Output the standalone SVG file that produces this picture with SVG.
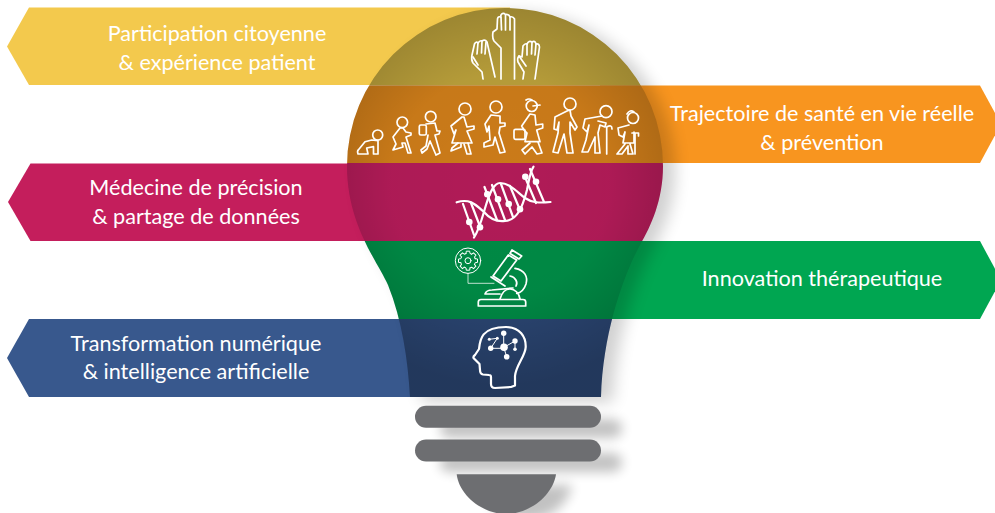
<svg xmlns="http://www.w3.org/2000/svg" width="995" height="513" viewBox="0 0 995 513">
<defs>
<filter id="blur" x="-30%" y="-150%" width="160%" height="400%"><feGaussianBlur stdDeviation="6"/></filter>
<filter id="blur2" x="-30%" y="-30%" width="160%" height="160%"><feGaussianBlur stdDeviation="8"/></filter>
<radialGradient id="tint" gradientUnits="userSpaceOnUse" cx="500" cy="185" r="200"><stop offset="0" stop-color="#000" stop-opacity="0"/><stop offset="0.55" stop-color="#000" stop-opacity="0.02"/><stop offset="1" stop-color="#000" stop-opacity="0.2"/></radialGradient>
<path id="bulbShape" d="M505 8A158 158 0 0 1 663 166C663 200 651 226 640 245C625 272 603 330 601 397H410C408 360 402 320 388 285C378 262 347 225 347 166A158 158 0 0 1 505 8Z"/>
<clipPath id="bulb"><use href="#bulbShape"/></clipPath>
<path id="tooth" d="M7.200 -2L9.500 -1.700V1.700L7.200 2L6.500 3.700"/>
</defs>
<style>
.t{font-family:"Lato","Liberation Sans",sans-serif;font-size:21.6px;fill:#fff;text-anchor:middle}
.i{fill:none;stroke:#fff;stroke-width:1.700;stroke-linecap:round;stroke-linejoin:round}
.f{fill:#fff;stroke:none}
.b{fill:#6d6e71}
.s{fill:#000;opacity:.24}
.thin{stroke-width:1}
</style>
<g id="band-participation"><path fill="#f3c94d" d="M29 7.500H510V85H29L7 46.500Z"/><text class="t" x="217" y="41">Participation citoyenne</text><text class="t" x="217" y="69.500">&amp; expérience patient</text></g>
<g id="band-trajectoire"><path fill="#f8951f" d="M600 85.500H980L1001 124L980 163H600Z"/><text class="t" x="822" y="120.500">Trajectoire de santé en vie réelle</text><text class="t" x="822" y="149.500">&amp; prévention</text></g>
<g id="band-medecine"><path fill="#c41e5c" d="M30.500 163.500H500V241H30.500L8 202Z"/><text class="t" x="196" y="195">Médecine de précision</text><text class="t" x="196" y="224">&amp; partage de données</text></g>
<g id="band-innovation"><path fill="#00a651" d="M600 241H980L1001 280L980 319H600Z"/><text class="t" x="822" y="286">Innovation thérapeutique</text></g>
<g id="band-numerique"><path fill="#38588d" d="M29 319H500V397H29L7 358Z"/><text class="t" x="196" y="350.500">Transformation numérique</text><text class="t" x="196" y="379">&amp; intelligence artificielle</text></g>
<g id="shadows">
<use href="#bulbShape" transform="translate(12 5)" filter="url(#blur2)" fill="#000" opacity=".18"/>
<rect class="s" x="440" y="419" width="182" height="19" rx="9" filter="url(#blur)"/>
<rect class="s" x="440" y="453" width="182" height="19" rx="9" filter="url(#blur)"/>
<path class="s" filter="url(#blur)" d="M480 485H572C568 505 550 520 525 520C505 520 485 505 480 485Z"/>
</g>
<g id="bulb-glass">
<g clip-path="url(#bulb)">
<rect x="340" y="0" width="335" height="85.500" fill="#b89e3a"/>
<rect x="340" y="85.500" width="335" height="77.500" fill="#cb7b19"/>
<rect x="340" y="163" width="335" height="78" fill="#b01b57"/>
<rect x="340" y="241" width="335" height="78" fill="#008a45"/>
<rect x="340" y="319" width="335" height="78" fill="#2b4673"/>
<rect x="340" y="0" width="335" height="400" fill="url(#tint)"/>
</g>
</g>
<g id="bulb-base"><rect class="b" x="415" y="405.700" width="186" height="22" rx="11"/><rect class="b" x="415" y="439.500" width="186" height="22" rx="11"/><path class="b" d="M456.700 474.300H556C553 495 530 514 506 514C482 514 459 495 456.700 474.300Z"/></g>
<g id="icon-hands" class="i">
<path d="M501 79V48L494 41Q492 38 493 32L497 29L497.500 19Q498 16 500.500 17L501 15Q503 12 505.500 14.500Q509 14 510 17Q513 16 514.500 19V79"/>
<path d="M501 17L501.500 30M505.500 15V30M510 17V30"/>
<path d="M483 79L482 72L473 63Q471 60 472 55L474.500 44Q476 41 478 43Q480 40 482 41Q485 39 487 42L495 77"/>
<path d="M478 43L477 54M482 41L481.500 53M486 42L485 54M473 57L478 65"/>
<path d="M523 79L524 72L518 62Q517 58 519 56L522 57L523 46Q525 43 527 44Q529 40 532 42Q535 40 536 44Q539 43 539.500 47L535 79"/>
<path d="M527 44V55M532 42L531.500 54M536 44L535 55M519 56L526 66"/>
</g>
<g id="icon-people" class="i">
<circle cx="377.700" cy="135" r="5"/><path d="M358.300 150L365 141.700L371.700 140L378 140.700V154H373.500V146.700L366.700 148L368 154H358Q357 151 358.300 150Z"/>
<circle cx="402.300" cy="122.300" r="5.300"/><path d="M400 128L393 137L396 144L393 150L403 147L402 143L405 143L408 153L411 153L406 137L411 135L411 133L406 132L403 128Z"/>
<circle cx="430.700" cy="116.700" r="5.300"/><rect x="419.300" y="125" width="7" height="10" rx="1.500"/><path d="M426 124L435 123L437 131L440 131L439 134L435 135L440 153L436 155L430 141L427 149L422 153L421 150L426 146L428 135"/>
<circle cx="465" cy="109" r="6"/><path d="M462 117L451 126L454 134L456 130L452 143H472L467 131L474 129V126L467 127L464 117Z"/><path d="M458 143L452 148L451 151L461 147V144M464 144L467 154H471L468 143"/>
<circle cx="496" cy="107" r="6"/><path d="M491 115L485 124L487 132L489 126L490 140L484 143V147L493 145L495 137L500 153L505 152L499 133L500 127L505 126V123H500L500 116Z"/>
<circle cx="531.700" cy="106" r="5.500"/><path d="M526 100Q529 98 532 100M533 106L540 105"/><rect x="514" y="129.300" width="11" height="10" rx="1.500"/><path d="M530 114L521.700 126L524 130L527 133L525 141.700H540L536.700 130L542.700 128V124L536 125L535 115Z"/><path d="M530 143L522 150L525 154L532 147L537 154L542 153L538 142"/>
<circle cx="570" cy="104" r="6"/><path d="M567 111L555 117L554 129L557 130L559 122L558 133L553 152L558 153L564 134L567 153L573 153L570 133V122L575 130L577 127L571 116L570 110Z"/>
<circle cx="606" cy="111.700" r="6"/><path d="M602 116L585 119L583 128L587 132L589 125L586 140L582 152L588 152L595 137V153H600L598 133L600 125L605 127L606 123L598 121"/><path d="M606.700 154V127Q612 124 612 129"/>
<circle cx="633" cy="118" r="5.500"/><path d="M627 114Q630 109 634 112"/><path d="M629 125L618 128L619 135L623 137L625 132L623 143H634V132M625 144L617 154H622L628 146L628 154H633L630 144"/><path d="M635 133V154M632 133H638.500V136"/>
</g>
<g id="icon-dna" class="i">
<g stroke-width="2.200">
<path d="M456.700 202.300C470 198 476 205 484 212C490 219 497 222 505 221C520 220 524 200 527 190C529 180 530 172 533.500 166.700"/>
<path d="M474 237.500C480 228 482 218 486 205C490 192 494 183 500 183C510 183 518 193 525 198C532 203 540 203 550.500 202"/>
<path d="M463 204L474 235M471 203L481 229M484.500 187L497 220M492 185L505 220M501 184L513 217M510 186L520 210M525 177L536 203M530 169L544 202"/>
</g>
<circle class="f" cx="469.300" cy="222" r="3.300"/><circle class="f" cx="480" cy="227.300" r="3.300"/><circle class="f" cx="487.300" cy="194.300" r="3.300"/><circle class="f" cx="498" cy="199.300" r="3.300"/><circle class="f" cx="508.700" cy="204" r="3.300"/><circle class="f" cx="520" cy="209.300" r="3.300"/><circle class="f" cx="525.300" cy="176.700" r="3.300"/><circle class="f" cx="536" cy="181.700" r="3.300"/>
</g>
<g id="icon-microscope" class="i">
<circle class="thin" cx="468" cy="260.700" r="12.700"/>
<g class="thin" transform="translate(468 260.700)"><use href="#tooth"/><use href="#tooth" transform="rotate(45)"/><use href="#tooth" transform="rotate(90)"/><use href="#tooth" transform="rotate(135)"/><use href="#tooth" transform="rotate(180)"/><use href="#tooth" transform="rotate(225)"/><use href="#tooth" transform="rotate(270)"/><use href="#tooth" transform="rotate(315)"/><circle r="3"/></g>
<path class="thin" d="M468 273.400V283.300H494" opacity=".75"/>
<path d="M508.300 255L516.700 260L501 281L493 276ZM491 277L505 286M512 250L521.700 256L519 259L510 253.500Z"/>
<path d="M515 268.300C525 270 528 277 526 284C524 290 520 293 516.700 293.300M510 276C516 277 518 283 516 286"/>
<path d="M485 294C486 291 489 290 492 290L513 288M485 294H500"/>
<path d="M500 299C502 292 506 289 510 289C515 289 519 293 520 299"/>
<path d="M478.300 306V302Q478.300 299.500 481 299.500H523Q525.700 299.500 525.700 302V306Z"/>
</g>
<g id="icon-head" class="i">
<path stroke-width="2.200" d="M491 384V377Q491 375 489 375L483 374.500Q480 374 480 370L479.500 364L473.500 358Q473 356.500 475 355L479 349C480 340 481 327 506 327C520 327 526 337 525.700 347C525.500 356 516 365 515 376V385.500L511 387L495 388Q491 388 491 384Z"/>
<path class="thin" d="M489.300 339.300L497.300 338.300L490.700 348.300H504M503.700 333.300V347.300L506.700 356.700M504 347.300L515 341L515 349.300"/>
<circle class="f" cx="504" cy="347.300" r="3.800"/><circle class="f" cx="503.700" cy="333.300" r="2.700"/><circle class="f" cx="515" cy="341" r="2.700"/><circle class="f" cx="506.700" cy="356.700" r="2.800"/><circle class="f" cx="490.700" cy="348.300" r="2.700"/><circle class="f" cx="515" cy="349.300" r="1.800"/><circle class="f" cx="489.300" cy="339.300" r="1.500"/><circle class="f" cx="497.300" cy="338.300" r="1.500"/>
</g>
</svg>
